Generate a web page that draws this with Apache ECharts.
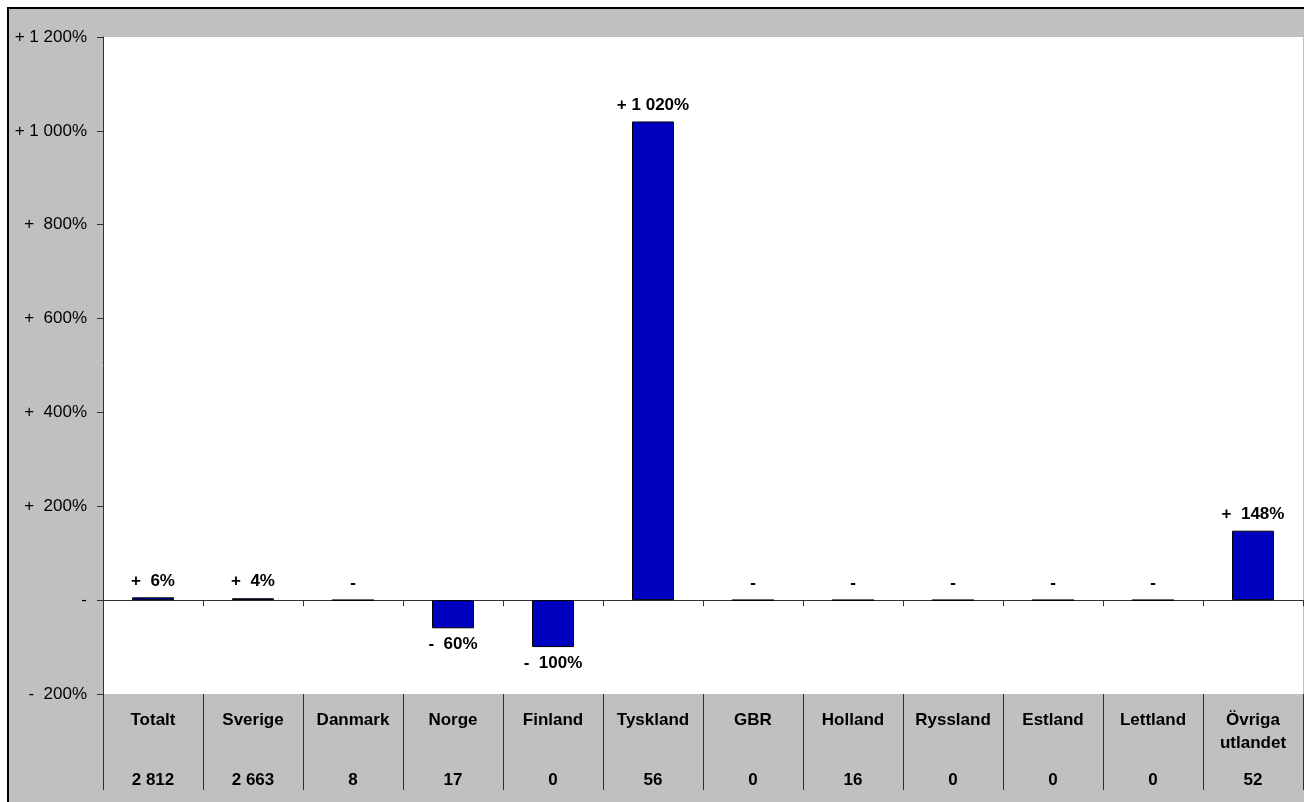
<!DOCTYPE html>
<html>
<head>
<meta charset="utf-8">
<script src="https://cdn.jsdelivr.net/npm/echarts@6/dist/echarts.min.js"></script>
<style>
  html, body { margin: 0; padding: 0; background: #fff; }
  #chart { width: 1304px; height: 802px; }
</style>
</head>
<body>
<div id="chart"></div>
<script>
// ── Data ───────────────────────────────────────────────────────────────────
var categories = ['Totalt', 'Sverige', 'Danmark', 'Norge', 'Finland', 'Tyskland',
                  'GBR', 'Holland', 'Ryssland', 'Estland', 'Lettland', 'Övriga\nutlandet'];
var changePct  = [6, 4, 0, -60, -100, 1020, 0, 0, 0, 0, 0, 148];
var counts     = ['2 812', '2 663', '8', '17', '0', '56', '0', '16', '0', '0', '0', '52'];
var yTickLabels = {
  '-200': '-  200%', '0': '-', '200': '+  200%', '400': '+  400%',
  '600': '+  600%', '800': '+  800%', '1000': '+ 1 000%', '1200': '+ 1 200%'
};

// Swedish style percent label: "+ 1 020%", "-  60%", "-"
function fmtPct(v) {
  if (v === 0) return '-';
  var a = Math.abs(v);
  var s = String(a).replace(/\B(?=(\d{3})+(?!\d))/g, ' ');
  return (v > 0 ? '+ ' : '- ') + (a < 1000 ? ' ' : '') + s + '%';
}

var FONT = 'Liberation Sans, Arial, sans-serif';
var AXIS = '#303030';

var chart = echarts.init(document.getElementById('chart'), null, { renderer: 'canvas' });

var barData = changePct.map(function (v) {
  return {
    value: v,
    label: { position: v < 0 ? 'bottom' : 'top' }
  };
});

var catAxisBase = {
  type: 'category',
  data: categories,
  gridIndex: 0,
  boundaryGap: true
};

chart.setOption({
  backgroundColor: '#fff',
  animation: false,
  graphic: [{
    type: 'rect',
    shape: { x: 8, y: 8, width: 1310, height: 810 },
    style: { fill: '#c0c0c0', stroke: '#000', lineWidth: 2 },
    z: -10,
    silent: true
  }],
  grid: {
    left: 103, top: 37, width: 1200, height: 657,
    show: true, backgroundColor: '#fff', borderWidth: 0
  },
  yAxis: {
    type: 'value',
    min: -200, max: 1200, interval: 200,
    axisLine: { show: true, lineStyle: { color: AXIS, width: 1 } },
    axisTick: { show: true, length: 6, lineStyle: { color: AXIS } },
    splitLine: { show: false },
    axisLabel: {
      margin: 16,
      color: '#000',
      fontFamily: FONT,
      fontSize: 17,
      formatter: function (v) { return yTickLabels[String(v)] || ''; }
    }
  },
  xAxis: [
    // zero line with short ticks
    Object.assign({}, catAxisBase, {
      axisLine: { show: true, onZero: true, lineStyle: { color: AXIS, width: 1 } },
      axisTick: { show: true, length: 6, lineStyle: { color: AXIS } },
      axisLabel: { show: false }
    }),
    // table: category names + separators
    Object.assign({}, catAxisBase, {
      position: 'bottom',
      axisLine: { show: false, onZero: false },
      axisTick: { show: true, length: 96, lineStyle: { color: AXIS, width: 1 } },
      axisLabel: {
        interval: 0, margin: 15, color: '#000',
        fontFamily: FONT, fontSize: 17, fontWeight: 'bold', lineHeight: 23
      }
    }),
    // table: counts
    Object.assign({}, catAxisBase, {
      position: 'bottom',
      data: counts,
      axisLine: { show: false, onZero: false },
      axisTick: { show: false },
      axisLabel: {
        interval: 0, margin: 78, color: '#000',
        fontFamily: FONT, fontSize: 17, fontWeight: 'bold'
      }
    })
  ],
  series: [{
    type: 'bar',
    xAxisIndex: 0,
    data: barData,
    barWidth: 42,
    itemStyle: { color: '#0000c0', borderColor: '#000', borderWidth: 1 },
    label: {
      show: true,
      distance: 8,
      color: '#000',
      fontFamily: FONT,
      fontSize: 17,
      fontWeight: 'bold',
      formatter: function (p) { return fmtPct(p.value); }
    }
  }]
});
</script>
</body>
</html>
